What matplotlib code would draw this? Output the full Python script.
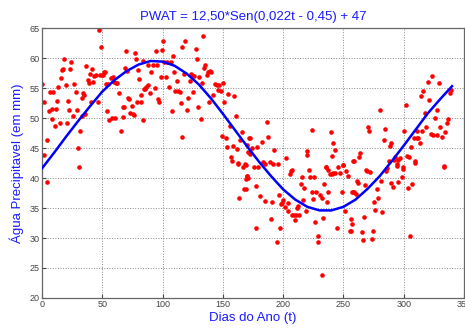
import numpy as np
import matplotlib
matplotlib.use("Agg")
import matplotlib.pyplot as plt

dias = [0.3, 1.4, 2, 4.4, 4.1, 5.6, 6.7, 8, 8.6, 9.4, 10.8, 12, 12.8, 13.3, 14.7, 15.8, 16.7,
        17.5, 18.6, 19.7, 21, 21.4, 22.8, 23.6, 24.4, 25.5, 26.7, 27.8, 28.9, 29.7, 30.5,
        31.7, 32.8, 33.3, 34.2, 34.8, 35.6, 36.7, 37.8, 38.9, 39.4, 40.3, 41.4, 42.2, 43.3,
        44.4, 46.1, 46.9, 48.6, 47.8, 49.7, 50.8, 51.7, 52.5, 53, 53.9, 55, 55.8, 57, 58,
        58.6, 59.7, 60.8, 61.7, 62.5, 63.6, 65.8, 67, 67.5, 68.3, 69.2, 70, 70.8, 71.4, 72.5,
        73.3, 74.7, 75.3, 76, 76.9, 78, 78.9, 79.7, 80.8, 81.9, 82.5, 83.6, 84.7,
        83.5, 85.2, 86.6, 87.9, 87.7, 89.6, 90.7, 91.8, 93.5, 94.6, 95.7, 96.5, 97.3, 98.7,
        99.5, 100.4, 101.2, 102.6, 104, 105.6, 107, 107.8, 108.4, 109.5, 110.6, 111.7, 113,
        114.2, 115, 115.8, 116.4, 117.5, 118.9, 120, 121.4, 122.8, 123.6, 124.4, 125.5,
        126.4, 127.7, 128.8, 129.4, 130.5, 131.6, 132.7, 133.3, 134.6, 135.5, 136.6, 137.4,
        138.5, 139.3, 140.4, 142.1, 143.5, 144.9, 146.2, 147.1, 148.2, 149.3, 150.4, 151,
        152.3, 153.7, 154.5, 155.9, 156.8, 157.4, 158.7, 159.2, 160.6, 161.5, 162.5, 164.2,
        165.6, 167, 168.6, 169.7, 171.4, 162.3, 170.3, 169.2, 167.5, 163.4,
        186.5, 172.2, 187.4, 174.4, 178.5, 182.4, 171, 172.6, 192.6, 202.6, 223.6, 219.7,
        220, 239.3, 241, 242.9, 240.4, 258.1, 168.8, 175.5, 179.4, 183.5, 184.9, 189,
        191.8, 195.4, 207, 221, 235.4, 236.8, 249.3,
        170, 171.1, 168.9, 177.7, 181, 184.9, 190.4, 189.9, 177.1, 194.6, 196.5, 197.6,
        198.7, 198.2, 199.5, 201.5, 203.7, 205.6, 206.4, 204.2, 207, 208.7, 209.8, 210.3,
        211.4, 212.5, 213.3, 214.7, 215.8, 216.7, 217.5, 218.6, 222.2, 223.6, 224.4, 225.5,
        226.3, 227.5, 228.6, 229.1, 230.5, 231.9, 232.4, 233.3, 234.1, 235.2, 236, 237.4,
        238.5, 240.2, 241.6, 242.9, 244.3, 245.7, 247.3, 248.5, 249.5, 251.2, 252.3, 254,
        255.6, 256.7, 258.1,
        323.4, 320.1, 329.2, 316.2, 314.3, 339.2, 338.3, 321.2, 301.6, 317.3, 327.8, 280.3,
        325.9, 336.4, 335.6, 270.3, 271.4, 284.4, 300.2, 310.7, 315.1, 318.4, 330, 334.2,
        322.3, 324.5, 327.8, 331.4, 308.5, 310.7, 312, 283.3, 313.4, 289.1, 288.6, 306,
        263.7, 262.6, 258.7, 292.7, 296.9, 302.4, 304.6, 288, 291.8, 295.5, 294.1, 309.6,
        299.1, 333.3, 269.2, 285.3,
        260.9, 262, 268.7, 272, 268.1, 257, 258.7, 260.4, 277.5, 280.8, 278.6, 275.3,
        276.1, 282.2, 285.8, 289.7, 290.8, 294.1, 295.5, 298.2, 299.1, 303.5, 306.8, 309.3,
        333.3, 256.5, 267, 256, 265.4, 266.5, 274.2, 273.4, 305.2]

pwat = [55.7, 52.6, 43.8, 46.4, 39.3, 51.2, 54.3, 49.9, 51.5, 54.4, 48.6, 51.5, 52.9, 55.1,
        49.1, 56.7, 58, 58.2, 59.9, 55.5, 49.2, 52.9, 51.4, 58.1, 59.3, 50.3, 55.7, 54.3,
        51.4, 45, 41.9, 47.8, 53.4, 50.4, 54.2, 53.9, 50.6, 58.7, 56.3, 55.8, 57.3, 52.7,
        58.1, 56, 57, 57.2, 52.7, 64.6, 61.8, 57.1, 57.2, 57.1, 57.7, 57.6, 55.7, 51.1, 55.7,
        49.6, 56.7, 50, 56.8, 56, 50, 55.9, 55.9, 54.2, 47.8, 50.2, 51.9, 51.9, 58.4, 61.2,
        57.9, 53.3, 53.2, 50.8, 52, 50.7, 50.5, 60.9, 59.8, 52.7, 58, 56.5, 53.8, 52.7, 49.7,
        54.9,
        59.5, 54.8, 55.1, 55.5, 58.9, 54.2, 57.7, 58.9, 55, 61.2, 58.9, 53.1, 52.7, 56.8,
        61.3, 62.8, 59.3, 56.8, 59.4, 55.1, 59.3, 51.1, 60.3, 57.6, 54.5, 56.2, 54.5, 54.4,
        52.5, 46.9, 61.8, 57.4, 62.9, 51.3, 53.3, 56.2, 57.4, 57.1, 54.3, 57, 61.5, 59.8,
        51.9, 56.9, 49.9, 55.8, 63.6, 58.3, 58.9, 57.1, 57.7, 52.6, 57.8, 57.6, 53.8, 55.6,
        55.5, 54.7, 55.5, 54.5, 47, 55.9, 52.6, 46.6, 45.2, 54, 48.6, 43.5, 42.9, 45.3, 53.6,
        50.4, 44.8, 42.3, 46.4, 47.7, 41.9, 42.3, 45.5, 46.7, 42.5, 40.3, 39.8, 38.1, 36.7,
        49.4, 46.7, 46.9, 45, 45.1, 46, 44.4, 44, 44.6, 43.3, 48, 44.5, 43.9, 47.6, 45.9,
        44.7, 43.7, 42.9, 42.1, 41.9, 41.8, 42.6, 42.4, 42.6, 42.3, 42.4, 41.3, 41.4, 41.8,
        41.4, 42.1,
        40.3, 40, 38.2, 38.7, 37, 36.2, 36, 33.2, 31.6, 29.3, 37.1, 31.7, 35.9, 35.6, 36.3,
        35.2, 35.9, 40.6, 41.1, 34.5, 33.8, 33.8, 33, 33.8, 35, 35.3, 33.8, 39, 40.1, 36.4,
        38.3, 34.5, 40.1, 37.6, 36.5, 40.2, 32.6, 37.7, 30.4, 29.4, 37.1, 36.6, 23.8, 33.4,
        39, 41.9, 36, 37.7, 40.7, 40.6, 40.8, 40.9, 31.6, 41.8, 40.9, 37.6, 42.1, 34.5,
        41.1, 40.3, 31.1, 32.3, 37.6,
        57, 56, 55.8, 54.5, 53.7, 54.7, 54.1, 53, 52.2, 50.9, 51.4, 51.3, 50, 49.9, 49.1,
        48.5, 47.8, 48.2, 47.9, 47.9, 47.8, 48.5, 48.5, 47.6, 47.4, 47.1, 47.1, 46.9, 46.6,
        46.6, 46.7, 46.4, 45.8, 45.8, 45.4, 45.2, 44.2, 43.5, 42.9, 43.5, 43.3, 43.7, 43.5,
        42.9, 43, 43, 42, 42.5, 41.5, 41.8, 41.2, 41.2,
        39.5, 39.1, 41.3, 41, 38.8, 37.6, 37.6, 37.4, 38.1, 39.5, 36.6, 36, 34.7, 34.3, 41.6,
        39.1, 38.5, 42.3, 39.3, 40.2, 41.9, 38.4, 39, 42.8, 42, 33.2, 33.5, 31.1, 31, 29.7,
        31.1, 29.9, 30.3]

# Fitted curve, read every 10 days
curva_t = [0, 10, 20, 30, 40, 50, 60, 70, 80, 90, 100, 110, 120, 130, 140, 150, 160, 170,
           180, 190, 200, 210, 220, 230, 240, 250, 260, 270, 280, 290, 300, 310, 320, 330, 340]
curva_v = [41.6, 44.2, 46.9, 49.5, 52.0, 54.4, 56.3, 57.8, 58.9, 59.5, 59.4, 58.7, 57.4,
           55.6, 53.3, 50.7, 48.0, 45.3, 42.7, 40.3, 38.1, 36.4, 35.2, 34.6, 34.6, 35.2,
           36.4, 38.2, 40.3, 42.8, 45.4, 48.1, 50.8, 53.1, 55.3]

plt.rcParams['font.family'] = ['Liberation Sans', 'DejaVu Sans']

fig = plt.figure(figsize=(4.65, 3.31), dpi=100)
ax = fig.add_axes([0.0903, 0.0997, 0.9077, 0.8157])

ax.plot(dias, pwat, 'o', color='red', markersize=3.3, markeredgewidth=0, zorder=2)
ax.plot(curva_t, curva_v, '-', color='#0000ff', linewidth=1.8, zorder=3)

ax.set_xlim(0, 350)
ax.set_ylim(20, 65)
ax.set_xticks(np.arange(0, 351, 50))
ax.set_yticks(np.arange(20, 66, 5))
ax.grid(True, linestyle=':', color='#888888', linewidth=0.7)
ax.tick_params(direction='in', length=3, labelsize=6.5, colors='#444444', pad=1.5)
for s in ax.spines.values():
    s.set_color('#666666')
    s.set_linewidth(0.9)

ax.set_title("PWAT = 12,50*Sen(0,022t - 0,45) + 47", color='#1a1aff', fontsize=9.5, pad=6)
ax.set_xlabel("Dias do Ano (t)", color='#1a1aff', fontsize=9.5, labelpad=2)
ax.set_ylabel("Água Precipitavel (em mm)", color='#1a1aff', fontsize=9.5, labelpad=4)

fig.savefig("out.png", dpi=100)
